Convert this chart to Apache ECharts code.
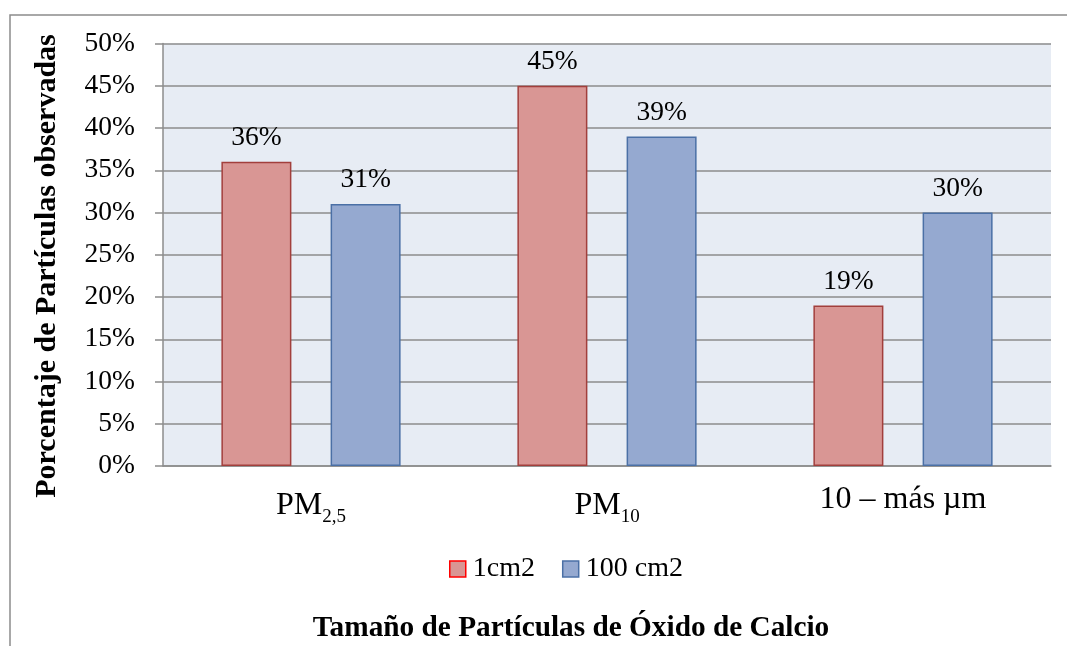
<!DOCTYPE html>
<html>
<head>
<meta charset="utf-8">
<script src="https://cdn.jsdelivr.net/npm/echarts@6/dist/echarts.min.js"></script>
<style>
html,body{margin:0;padding:0;background:#fff;}
#chart{width:1067px;height:646px;}
</style>
</head>
<body>
<div id="chart"></div>
<script>
const categories = ['PM2,5', 'PM10', '10 – más µm'];
const categoryMain = ['PM', 'PM', '10 – más µm'];
const categorySub = ['2,5', '10', ''];
const series1Name = '1cm2';
const series1Values = [36, 45, 19];
const series2Name = '100 cm2';
const series2Values = [31, 39, 30];
const yTicks = [0, 5, 10, 15, 20, 25, 30, 35, 40, 45, 50];
const yAxisTitle = 'Porcentaje de Partículas observadas';
const xAxisTitle = 'Tamaño de Partículas de Óxido de Calcio';

const FONT = "'Liberation Serif', 'Times New Roman', serif";
const chart = echarts.init(document.getElementById('chart'), null, {renderer: 'canvas'});

const labelStyle = {
  show: true, position: 'top', distance: 10,
  fontFamily: FONT, fontSize: 27.5, color: '#000',
  formatter: p => p.value + '%'
};

chart.setOption({
  backgroundColor: '#fff',
  animation: false,
  graphic: [
    {type: 'rect', shape: {x: 10, y: 15, width: 1200, height: 800},
     style: {fill: 'none', stroke: '#8c8c8c', lineWidth: 1.5}, z: -10, silent: true},
    {type: 'text', x: 47, y: 266, rotation: Math.PI / 2,
     style: {text: yAxisTitle, fontFamily: FONT, fontSize: 30, fontWeight: 'bold', fill: '#000',
             textAlign: 'center', textVerticalAlign: 'middle'}}
  ],
  title: {
    text: xAxisTitle, left: 566, top: 609, textAlign: 'center',
    textStyle: {fontFamily: FONT, fontSize: 29.3, fontWeight: 'bold', color: '#000'}
  },
  legend: {
    left: 444, top: 550, itemWidth: 16, itemHeight: 16, itemGap: 27, icon: 'rect',
    textStyle: {fontFamily: FONT, fontSize: 28, color: '#000', padding: [0, 0, 0, 2]},
    data: [
      {name: series1Name, itemStyle: {color: '#D99694', borderColor: '#FF0000', borderWidth: 1.5}},
      {name: series2Name, itemStyle: {color: '#95A9D0', borderColor: '#4B70A6', borderWidth: 1.5}}
    ]
  },
  grid: {left: 163, right: 16, top: 43.5, bottom: 180, show: true,
         backgroundColor: '#E7ECF4', borderWidth: 0, containLabel: false},
  xAxis: {
    type: 'category', data: categories,
    axisLine: {show: true, lineStyle: {color: '#8c8c8c', width: 1.5}},
    axisTick: {show: false},
    axisLabel: {
      margin: 18, color: '#000',
      formatter: (v, i) => categorySub[i] ? '{m|' + categoryMain[i] + '}{s|' + categorySub[i] + '}' : '{m|' + categoryMain[i] + '}',
      rich: {
        m: {fontFamily: FONT, fontSize: 32, color: '#000'},
        s: {fontFamily: FONT, fontSize: 19, color: '#000', padding: [24, 0, 0, 0]}
      }
    }
  },
  yAxis: {
    type: 'value', min: yTicks[0], max: yTicks[yTicks.length - 1], interval: 5,
    axisLine: {show: true, lineStyle: {color: '#8c8c8c', width: 1.5}},
    axisTick: {show: true, length: 8, inside: false, lineStyle: {color: '#8c8c8c', width: 1.5}},
    splitLine: {show: true, lineStyle: {color: '#8c8c8c', width: 1.5}},
    axisLabel: {margin: 28, fontFamily: FONT, fontSize: 27.5, color: '#000', formatter: '{value}%'}
  },
  series: [
    {name: series1Name, type: 'bar', data: series1Values, barWidth: 70, barGap: '56%',
     itemStyle: {color: '#D99694', borderColor: '#A23F3C', borderWidth: 1.5},
     label: labelStyle},
    {name: series2Name, type: 'bar', data: series2Values, barWidth: 70,
     itemStyle: {color: '#95A9D0', borderColor: '#4B70A6', borderWidth: 1.5},
     label: labelStyle}
  ]
});
</script>
</body>
</html>
